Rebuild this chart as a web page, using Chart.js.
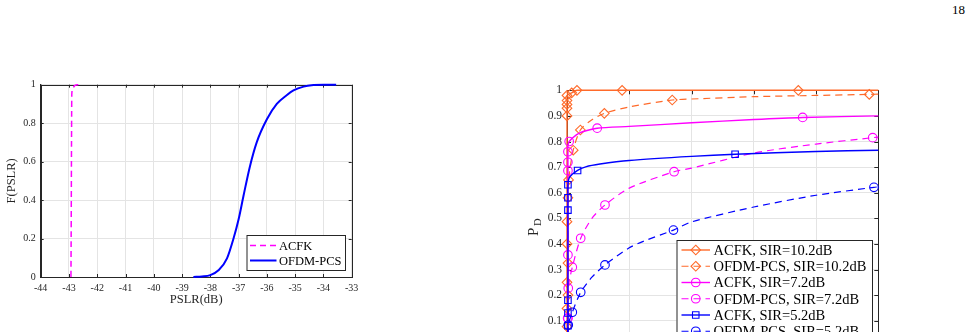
<!DOCTYPE html>
<html>
<head>
<meta charset="utf-8">
<script src="https://cdn.jsdelivr.net/npm/chart.js@4.4.0/dist/chart.umd.min.js"></script>
<style>
  html, body { margin: 0; padding: 0; background: #fff; overflow: hidden; width: 972px; height: 332px; }
  #page { position: absolute; left: 952px; top: 3px; font-family: "Liberation Serif", "Times New Roman", serif; font-size: 13px; line-height: 13px; color: #000; }
  #left { position: absolute; left: 0; top: 0; }
  #right { position: absolute; left: 480px; top: 0; }
</style>
</head>
<body>
<div id="page">18</div>
<canvas id="left" width="380" height="332"></canvas>
<canvas id="right" width="492" height="420"></canvas>
<script>
// Left chart: CDF of PSLR

const pslrTicks = [-44, -43, -42, -41, -40, -39, -38, -37, -36, -35, -34, -33];
const cdfTicks = [0, 0.2, 0.4, 0.6, 0.8, 1];

const acfkPslrX = [-42.93, -42.92, -42.91, -42.9, -42.87, -42.8, -42.7, -42.6];
const acfkPslrY = [0, 0.3, 0.7, 0.95, 0.98, 0.995, 1, 1];

const ofdmPslrX = [-38.6, -38.3, -38.0, -37.7, -37.41, -37.18, -37.0, -36.83, -36.6, -36.36, -36.0, -35.65, -35.3, -35.06, -34.7, -34.35, -34.0, -33.55];
const ofdmPslrY = [0, 0.003, 0.01, 0.036, 0.097, 0.2, 0.3, 0.42, 0.575, 0.7, 0.82, 0.9, 0.945, 0.97, 0.99, 0.998, 1, 1];

// Right chart: detection probability

const pfaTicks = [0, 0.2, 0.4, 0.6, 0.8, 1];
const pdTicks = [0, 0.1, 0.2, 0.3, 0.4, 0.5, 0.6, 0.7, 0.8, 0.9, 1];

const acfk102X = [0, 0, 0, 0, 0, 0, 0, 0, 0, 0, 0, 0.015, 0.032, 0.177, 0.743, 1];
const acfk102Y = [0, 0.077, 0.148, 0.25, 0.4, 0.487, 0.9, 0.93, 0.945, 0.96, 0.98, 0.99, 1, 1, 1, 1];
const acfk102Marks = [1, 2, 3, 4, 5, 6, 7, 8, 9, 10, 11, 12, 13, 14];

const ofdm102X = [0.003, 0.003, 0.003, 0.003, 0.005, 0.02, 0.043, 0.08, 0.12, 0.2, 0.338, 0.4, 0.6, 0.8, 0.971, 1];
const ofdm102Y = [0, 0.2, 0.325, 0.58, 0.65, 0.766, 0.845, 0.885, 0.91, 0.935, 0.962, 0.966, 0.975, 0.98, 0.984, 0.985];
const ofdm102Marks = [1, 2, 3, 4, 5, 6, 8, 10, 14];

const acfk72X = [0.003, 0.003, 0.003, 0.003, 0.003, 0.003, 0.003, 0.007, 0.03, 0.05, 0.097, 0.2, 0.4, 0.6, 0.757, 1];
const acfk72Y = [0, 0.11, 0.357, 0.686, 0.719, 0.76, 0.78, 0.8, 0.826, 0.838, 0.852, 0.859, 0.873, 0.886, 0.894, 0.9];
const acfk72Marks = [1, 2, 3, 4, 5, 7, 10, 14];

const ofdm72X = [0.002, 0.002, 0.004, 0.017, 0.044, 0.08, 0.122, 0.2, 0.344, 0.4, 0.6, 0.8, 0.982, 1];
const ofdm72Y = [0, 0.11, 0.227, 0.309, 0.422, 0.5, 0.552, 0.618, 0.682, 0.696, 0.755, 0.79, 0.815, 0.817];
const ofdm72Marks = [1, 2, 3, 4, 6, 8, 12];

const acfk52X = [0.003, 0.003, 0.003, 0.003, 0.003, 0.003, 0.003, 0.008, 0.034, 0.06, 0.106, 0.2, 0.4, 0.54, 0.8, 1];
const acfk52Y = [0, 0.08, 0.13, 0.18, 0.532, 0.58, 0.631, 0.66, 0.687, 0.701, 0.712, 0.726, 0.742, 0.75, 0.761, 0.766];
const acfk52Marks = [1, 2, 3, 4, 5, 6, 8, 13];

const ofdm52X = [0.002, 0.004, 0.017, 0.044, 0.08, 0.122, 0.2, 0.245, 0.342, 0.4, 0.6, 0.8, 0.986, 1];
const ofdm52Y = [0, 0.083, 0.133, 0.211, 0.27, 0.318, 0.385, 0.41, 0.454, 0.486, 0.544, 0.59, 0.621, 0.623];
const ofdm52Marks = [1, 2, 3, 5, 8, 12];

// Styles

const SERIF = '"Liberation Serif", "Times New Roman", serif';
const AXIS = '#262626';
const GRID = '#e4e4e4';
const ORANGE = '#ff6a2a';
const MAGENTA = '#ff00ff';
const BLUE = '#0000ff';

const toPoints = (xs, ys) => xs.map((x, i) => ({ x: x, y: ys[i] }));

function drawMarker(ctx, style, x, y, r) {
  ctx.beginPath();
  if (style === 'rectRot') {
    ctx.moveTo(x, y - r);
    ctx.lineTo(x + r, y);
    ctx.lineTo(x, y + r);
    ctx.lineTo(x - r, y);
    ctx.closePath();
  } else if (style === 'rect') {
    const s = r * Math.SQRT1_2;
    ctx.rect(x - s, y - s, 2 * s, 2 * s);
  } else if (style === 'circle') {
    ctx.arc(x, y, r, 0, Math.PI * 2);
  }
  ctx.stroke();
}

// box, inward ticks, legend and axis titles (MATLAB look)
const matlabAxes = {
  id: 'matlabAxes',
  beforeDatasetsDraw(chart, args, opts) {
    const { ctx, chartArea: a, scales } = chart;
    const t = opts.tickLen;
    ctx.save();
    ctx.strokeStyle = AXIS;
    ctx.lineWidth = 1;
    ctx.beginPath();
    scales.x.ticks.forEach(tk => {
      const px = Math.round(scales.x.getPixelForValue(tk.value)) + 0.5;
      ctx.moveTo(px, a.bottom); ctx.lineTo(px, a.bottom - t);
      ctx.moveTo(px, a.top); ctx.lineTo(px, a.top + t);
    });
    scales.y.ticks.forEach(tk => {
      const py = Math.round(scales.y.getPixelForValue(tk.value)) + 0.5;
      ctx.moveTo(a.left, py); ctx.lineTo(a.left + t, py);
      ctx.moveTo(a.right, py); ctx.lineTo(a.right - t, py);
    });
    ctx.stroke();
    ctx.strokeRect(Math.round(a.left) + 0.5, Math.round(a.top) + 0.5, Math.round(a.width), Math.round(a.height));
    ctx.restore();
  },
  afterDraw(chart, args, opts) {
    const { ctx, chartArea: a } = chart;
    ctx.save();
    // legend
    const lg = opts.legend;
    ctx.fillStyle = '#fff';
    ctx.fillRect(lg.x, lg.y, lg.w, lg.h);
    ctx.strokeStyle = AXIS;
    ctx.lineWidth = 1;
    ctx.strokeRect(lg.x + 0.5, lg.y + 0.5, lg.w, lg.h);
    ctx.font = lg.font + 'px ' + SERIF;
    ctx.textBaseline = 'middle';
    chart.data.datasets.forEach((ds, i) => {
      const y = lg.y + lg.first + i * lg.step;
      ctx.strokeStyle = ds.borderColor;
      ctx.lineWidth = ds.borderWidth;
      ctx.setLineDash(ds.borderDash || []);
      ctx.beginPath();
      ctx.moveTo(lg.x + lg.lineFrom, y);
      ctx.lineTo(lg.x + lg.lineTo, y);
      ctx.stroke();
      ctx.setLineDash([]);
      if (ds.markerStyle) {
        ctx.lineWidth = 1.1;
        drawMarker(ctx, ds.markerStyle, lg.x + (lg.lineFrom + lg.lineTo) / 2, y, ds.markerSize);
      }
      ctx.fillStyle = '#000';
      ctx.textAlign = 'left';
      ctx.fillText(ds.label, lg.x + lg.text, y + 1);
    });
    // axis titles
    opts.titles(ctx, a);
    ctx.restore();
  }
};

function scaleBase(min, max, step, width, height, labelSize, pad, fmt) {
  return {
    type: 'linear',
    min: min,
    max: max,
    afterFit: s => { if (width) s.width = width; if (height) s.height = height; },
    afterBuildTicks: s => { s.ticks = step.map(v => ({ value: v })); },
    grid: { color: GRID, drawTicks: false, lineWidth: 1 },
    border: { color: AXIS, width: 1 },
    ticks: {
      padding: pad,
      color: AXIS,
      font: { family: SERIF, size: labelSize },
      maxRotation: 0,
      autoSkip: false,
      callback: fmt
    }
  };
}

const fmt = v => String(+v.toFixed(2));

// Left chart

new Chart(document.getElementById('left'), {
  type: 'scatter',
  data: {
    datasets: [
      {
        label: 'ACFK',
        data: toPoints(acfkPslrX, acfkPslrY),
        showLine: true,
        borderColor: MAGENTA,
        borderWidth: 1.5,
        borderDash: [6, 4],
        pointRadius: 0,
        cubicInterpolationMode: 'monotone',
        clip: false
      },
      {
        label: 'OFDM-PCS',
        data: toPoints(ofdmPslrX, ofdmPslrY),
        showLine: true,
        borderColor: BLUE,
        borderWidth: 2,
        pointRadius: 0,
        cubicInterpolationMode: 'monotone',
        clip: false
      }
    ]
  },
  options: {
    responsive: false,
    animation: false,
    layout: { padding: { left: 0, top: 84.7, right: 28.3, bottom: 0 } },
    scales: {
      x: scaleBase(-44, -33, pslrTicks, null, 55, 10, 5, v => String(v)),
      y: scaleBase(0, 1, cdfTicks, 40.7, null, 10, 5, fmt)
    },
    plugins: {
      legend: { display: false },
      tooltip: { enabled: false },
      matlabAxes: {
        tickLen: 3,
        legend: { x: 246.5, y: 235, w: 98.5, h: 35, font: 12.5, first: 10.5, step: 15, lineFrom: 3.5, lineTo: 30, text: 32.5 },
        titles: (ctx, a) => {
          ctx.fillStyle = AXIS;
          ctx.font = '12.5px ' + SERIF;
          ctx.textAlign = 'center';
          ctx.textBaseline = 'middle';
          ctx.fillText('PSLR(dB)', (a.left + a.right) / 2, 299.5);
          ctx.translate(11.5, (a.top + a.bottom) / 2);
          ctx.rotate(-Math.PI / 2);
          ctx.fillText('F(PSLR)', 0, 0);
        }
      }
    }
  },
  plugins: [matlabAxes]
});

// Right chart

function rocSet(label, xs, ys, marks, color, dashed, style, size) {
  return {
    label: label,
    data: toPoints(xs, ys),
    showLine: true,
    borderColor: color,
    borderWidth: dashed ? 1.2 : 1.4,
    borderDash: dashed ? [7, 5] : [],
    pointStyle: style,
    markerStyle: style,
    markerSize: size,
    pointRadius: c => (marks.includes(c.dataIndex) ? size : 0),
    pointBorderColor: color,
    pointBackgroundColor: 'rgba(0,0,0,0)',
    pointBorderWidth: 1.1,
    tension: 0.25,
    clip: false
  };
}

const rightSets = [
  rocSet('ACFK, SIR=10.2dB', acfk102X, acfk102Y, acfk102Marks, ORANGE, false, 'rectRot', 4.8),
  rocSet('OFDM-PCS, SIR=10.2dB', ofdm102X, ofdm102Y, ofdm102Marks, ORANGE, true, 'rectRot', 4.8),
  rocSet('ACFK, SIR=7.2dB', acfk72X, acfk72Y, acfk72Marks, MAGENTA, false, 'circle', 4.3),
  rocSet('OFDM-PCS, SIR=7.2dB', ofdm72X, ofdm72Y, ofdm72Marks, MAGENTA, true, 'circle', 4.3),
  rocSet('ACFK, SIR=5.2dB', acfk52X, acfk52Y, acfk52Marks, BLUE, false, 'rect', 4.6),
  rocSet('OFDM-PCS, SIR=5.2dB', ofdm52X, ofdm52Y, ofdm52Marks, BLUE, true, 'circle', 4.3)
];
rightSets.forEach((ds, i) => { ds.order = -i; });

new Chart(document.getElementById('right'), {
  type: 'scatter',
  data: { datasets: rightSets },
  options: {
    responsive: false,
    animation: false,
    layout: { padding: { left: 0, top: 90.3, right: 93.7, bottom: 0 } },
    scales: {
      x: scaleBase(0, 1, pfaTicks, null, 73.7, 11, 5, fmt),
      y: scaleBase(0, 1, pdTicks, 87, null, 11.5, 5, fmt)
    },
    plugins: {
      legend: { display: false },
      tooltip: { enabled: false },
      matlabAxes: {
        tickLen: 4,
        legend: { x: 196.5, y: 240, w: 195.5, h: 106, font: 14.5, first: 10, step: 16.25, lineFrom: 5, lineTo: 33.5, text: 37 },
        titles: (ctx, a) => {
          ctx.fillStyle = AXIS;
          ctx.textAlign = 'left';
          ctx.textBaseline = 'alphabetic';
          ctx.translate(57.5, 236);
          ctx.rotate(-Math.PI / 2);
          ctx.font = '15px ' + SERIF;
          ctx.fillText('P', 0, 0);
          ctx.font = '10.5px ' + SERIF;
          ctx.fillText('D', 10, 3.5);
        }
      }
    }
  },
  plugins: [matlabAxes]
});
</script>
</body>
</html>
